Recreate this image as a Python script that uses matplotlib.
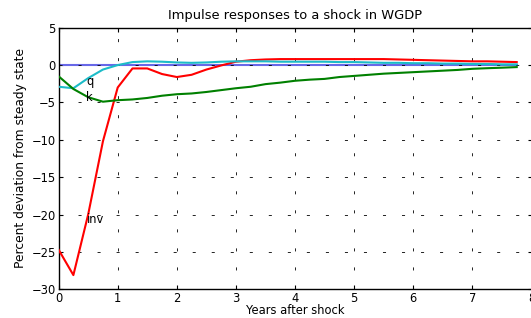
import numpy as np
import matplotlib
matplotlib.use("Agg")
import matplotlib.pyplot as plt

plt.rcParams['font.family'] = ['DejaVu Sans']
plt.rcParams['lines.scale_dashes'] = False

quarters = np.arange(32)
years = quarters / 4.0

inv = [-24.7, -28.1, -20.0, -10.2, -3.0, -0.45, -0.45, -1.2, -1.6, -1.3, -0.6, -0.05,
       0.45, 0.65, 0.75, 0.8, 0.8, 0.8, 0.8, 0.8, 0.8, 0.8, 0.8, 0.75,
       0.7, 0.65, 0.6, 0.55, 0.5, 0.5, 0.45, 0.4]
q = [-2.9, -3.1, -1.75, -0.6, 0.0, 0.4, 0.5, 0.45, 0.35, 0.3, 0.35, 0.45,
     0.5, 0.5, 0.5, 0.45, 0.45, 0.45, 0.45, 0.4, 0.4, 0.35, 0.3, 0.3,
     0.25, 0.25, 0.2, 0.2, 0.15, 0.15, 0.1, 0.1]
k = [-1.5, -3.2, -4.3, -4.9, -4.7, -4.6, -4.4, -4.1, -3.9, -3.8, -3.6, -3.35,
     -3.1, -2.9, -2.55, -2.35, -2.1, -1.95, -1.85, -1.6, -1.45, -1.3, -1.15, -1.05,
     -0.95, -0.85, -0.75, -0.65, -0.5, -0.42, -0.35, -0.27]
zero = [0.0] * 32

xticks = [0, 1, 2, 3, 4, 5, 6, 7, 8]
yticks = [-30, -25, -20, -15, -10, -5, 0, 5]

W, H = 531, 318
fig = plt.figure(figsize=(W / 100, H / 100), dpi=100)
ax = fig.add_axes([58.6 / W, (H - 289.3) / H, 472.9 / W, (289.3 - 27.7) / H])

grid_style = dict(color='black', linewidth=0.6, linestyle=(0, (2.2, 11.5)))
for xv in xticks[1:-1]:
    ax.axvline(xv, **grid_style, zorder=0)
for yv in yticks[1:-1]:
    ax.axhline(yv, **grid_style, zorder=2.5 if yv == 0 else 0)

ax.plot(years, zero, color='#6868e8', lw=1.5, zorder=2)
ax.plot(years, inv, color='#ff0000', lw=1.5, zorder=3)
ax.plot(years, q, color='#1cbcc8', lw=1.5, zorder=3)
ax.plot(years, k, color='#008000', lw=1.5, zorder=3)

fs = 8.3
ax.text(0.47, -2.2, 'q', fontsize=fs, va='center', ha='left')
ax.text(0.47, -4.3, 'k', fontsize=fs, va='center', ha='left')
ax.text(0.47, -20.7, 'inv', fontsize=fs, va='center', ha='left')

ax.set_xlim(0, 8)
ax.set_ylim(-30, 5)
ax.set_xticks(xticks)
ax.set_yticks(yticks)
ax.tick_params(direction='in', length=3, width=0.8, labelsize=fs, pad=2,
               top=True, right=True)
for s in ax.spines.values():
    s.set_linewidth(1.0)

ax.set_title('Impulse responses to a shock in WGDP', fontsize=9.4, pad=6)
ax.set_xlabel('Years after shock', fontsize=fs, labelpad=-1)
ax.set_ylabel('Percent deviation from steady state', fontsize=8.8, labelpad=3)

fig.savefig('out.png', dpi=100)
